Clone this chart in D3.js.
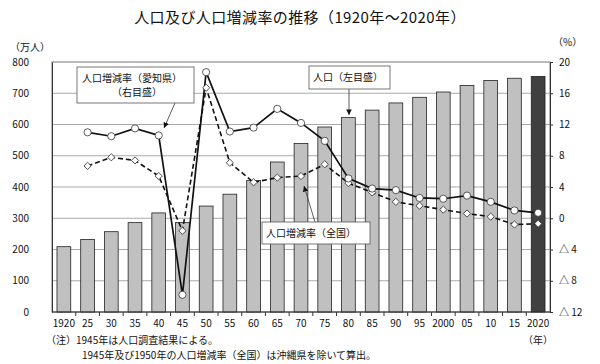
<!DOCTYPE html>
<html>
<head>
<meta charset="utf-8">
<script src="https://cdn.jsdelivr.net/npm/d3@7"></script>
<style>
  body { margin: 0; background: #fff; }
  svg text { font-family: "Noto Sans CJK JP", "DejaVu Sans", sans-serif; fill: #111; }
</style>
</head>
<body>
<svg id="chart" width="600" height="364"></svg>
<script>
const years = [1920, 1925, 1930, 1935, 1940, 1945, 1950, 1955, 1960, 1965, 1970,
               1975, 1980, 1985, 1990, 1995, 2000, 2005, 2010, 2015, 2020]
const yearLabels = ['1920', '25', '30', '35', '40', '45', '50', '55', '60', '65', '70',
                    '75', '80', '85', '90', '95', '2000', '05', '10', '15', '2020']
// 人口 (万人)
const population = [209, 232, 257, 286, 317, 286, 339, 377, 421, 480, 539,
                    592, 622, 646, 669, 687, 704, 725, 741, 748, 754]
// 人口増減率 愛知県 (%), from 1925
const rateAichi = [null, 11.0, 10.5, 11.5, 10.6, -9.8, 18.7, 11.1, 11.6, 14.0, 12.2,
                   9.9, 5.1, 3.8, 3.6, 2.6, 2.5, 2.9, 2.1, 1.0, 0.7]
// 人口増減率 全国 (%)
const rateJapan = [null, 6.7, 7.8, 7.4, 5.4, -1.6, 16.7, 7.1, 4.6, 5.2, 5.4,
                   6.9, 4.5, 3.3, 2.1, 1.6, 1.1, 0.6, 0.2, -0.8, -0.7]
const leftTicks = [0, 100, 200, 300, 400, 500, 600, 700, 800]
const rightTicks = [-12, -8, -4, 0, 4, 8, 12, 16, 20]

const svg = d3.select('#chart')
const m = {left: 52, right: 550, top: 62, bottom: 312}

const x = d3.scaleBand().domain(years).range([m.left, m.right])
  .paddingInner(0.42).paddingOuter(0.21)
const yL = d3.scaleLinear().domain([0, 800]).range([m.bottom, m.top])
const yR = d3.scaleLinear().domain([-12, 20]).range([m.bottom, m.top])
const cx = d => x(d) + x.bandwidth() / 2

// title
svg.append('text').attr('x', 300).attr('y', 23).attr('text-anchor', 'middle')
  .attr('font-size', 15).attr('letter-spacing', 0.4)
  .text('人口及び人口増減率の推移（1920年～2020年）')
svg.append('text').attr('x', 10).attr('y', 51).attr('font-size', 10).text('（万人）')
svg.append('text').attr('x', 553).attr('y', 46).attr('font-size', 10).text('（%）')

// gridlines
svg.append('g').selectAll('line').data(leftTicks.slice(1, -1)).join('line')
  .attr('x1', m.left).attr('x2', m.right)
  .attr('y1', d => yL(d)).attr('y2', d => yL(d))
  .attr('stroke', '#aaa').attr('stroke-width', 1)

// frame
svg.append('rect').attr('x', m.left).attr('y', m.top)
  .attr('width', m.right - m.left).attr('height', m.bottom - m.top)
  .attr('fill', 'none').attr('stroke', '#777').attr('stroke-width', 1)

// bars
svg.append('g').selectAll('rect').data(years).join('rect')
  .attr('x', d => x(d)).attr('width', x.bandwidth())
  .attr('y', (d, i) => yL(population[i]))
  .attr('height', (d, i) => yL(0) - yL(population[i]))
  .attr('fill', (d, i) => i === years.length - 1 ? '#404040' : '#c0c0c0')
  .attr('stroke', '#222').attr('stroke-width', 0.8)

// left axis
const axL = svg.append('g').attr('transform', `translate(${m.left},0)`)
  .call(d3.axisLeft(yL).tickValues(leftTicks).tickSize(0).tickPadding(23))
axL.select('.domain').attr('stroke', '#333')
axL.selectAll('text').attr('font-size', 10).attr('font-family', '"Liberation Serif", serif')

// right axis
const axR = svg.append('g').attr('transform', `translate(${m.right},0)`)
  .call(d3.axisRight(yR).tickValues(rightTicks).tickSize(3).tickPadding(6)
    .tickFormat(d => d < 0 ? '△ ' + (-d) : d))
axR.select('.domain').attr('stroke', '#333')
axR.selectAll('line').attr('stroke', '#333')
axR.selectAll('text').attr('font-size', 10).attr('font-family', '"Liberation Serif", serif')

// bottom axis
svg.append('line').attr('x1', m.left).attr('x2', m.right)
  .attr('y1', m.bottom).attr('y2', m.bottom).attr('stroke', '#333')
svg.append('g').selectAll('line').data(years.slice(1)).join('line')
  .attr('x1', d => x(d) - x.step() * x.paddingInner() / 2)
  .attr('x2', d => x(d) - x.step() * x.paddingInner() / 2)
  .attr('y1', m.bottom).attr('y2', m.bottom + 4).attr('stroke', '#333')
svg.append('g').selectAll('text').data(years).join('text')
  .attr('x', d => cx(d)).attr('y', 327).attr('text-anchor', 'middle')
  .attr('font-size', 10).attr('font-family', '"Liberation Serif", serif')
  .text((d, i) => yearLabels[i])
svg.append('text').attr('x', 538).attr('y', 344).attr('text-anchor', 'middle')
  .attr('font-size', 10).text('（年）')

// notes
svg.append('text').attr('x', 46).attr('y', 344).attr('font-size', 10)
  .text('（注）1945年は人口調査結果による。')
svg.append('text').attr('x', 82).attr('y', 359).attr('font-size', 10)
  .text('1945年及び1950年の人口増減率（全国）は沖縄県を除いて算出。')

// lines
const ptsJ = years.map((d, i) => [cx(d), rateJapan[i]]).filter(p => p[1] !== null)
const ptsA = years.map((d, i) => [cx(d), rateAichi[i]]).filter(p => p[1] !== null)
const line = d3.line().x(p => p[0]).y(p => yR(p[1]))

svg.append('path').datum(ptsJ).attr('d', line)
  .attr('fill', 'none').attr('stroke', '#111').attr('stroke-width', 1.6)
  .attr('stroke-dasharray', '5,3')
svg.append('path').datum(ptsA).attr('d', line)
  .attr('fill', 'none').attr('stroke', '#111').attr('stroke-width', 1.7)

svg.append('g').selectAll('path').data(ptsJ).join('path')
  .attr('d', d3.symbol(d3.symbolSquare, 26))
  .attr('transform', p => `translate(${p[0]},${yR(p[1])}) rotate(45)`)
  .attr('fill', '#fff').attr('stroke', '#333').attr('stroke-width', 0.8)
svg.append('g').selectAll('circle').data(ptsA).join('circle')
  .attr('cx', p => p[0]).attr('cy', p => yR(p[1])).attr('r', 3.6)
  .attr('fill', '#fff').attr('stroke', '#333').attr('stroke-width', 0.8)

// annotations
svg.append('defs').append('marker').attr('id', 'arr')
  .attr('viewBox', '0 0 10 10').attr('refX', 10).attr('refY', 5)
  .attr('markerWidth', 7).attr('markerHeight', 7).attr('orient', 'auto')
  .append('path').attr('d', 'M0,0L10,5L0,10Z').attr('fill', '#111')

function callout(bx, by, bw, bh, lines, ax1, ay1, ax2, ay2) {
  svg.append('line').attr('x1', ax1).attr('y1', ay1).attr('x2', ax2).attr('y2', ay2)
    .attr('stroke', '#333').attr('stroke-width', 0.8).attr('marker-end', 'url(#arr)')
  svg.append('rect').attr('x', bx).attr('y', by).attr('width', bw).attr('height', bh)
    .attr('fill', '#fff').attr('stroke', '#555').attr('stroke-width', 0.8)
  lines.forEach((t, i) => {
    svg.append('text').attr('x', t.x).attr('y', by + 15 + i * 14)
      .attr('font-size', 10).text(t.s)
  })
}
callout(77, 67, 117, 36, [{x: 82, s: '人口増減率（愛知県）'}, {x: 112, s: '（右目盛）'}],
  175, 103, 164, 128)
callout(309, 66, 81, 23, [{x: 313, s: '人口（左目盛）'}], 349, 89, 349, 115)
callout(262, 222, 108, 22, [{x: 266, s: '人口増減率（全国）'}], 315, 222, 304, 186)
</script>
</body>
</html>
